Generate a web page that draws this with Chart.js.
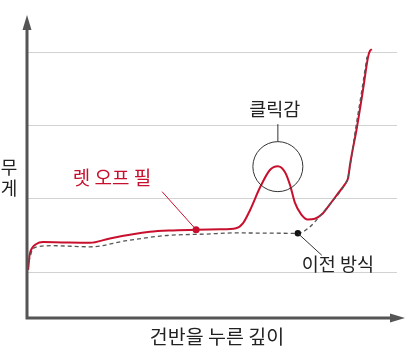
<!DOCTYPE html>
<html>
<head>
<meta charset="utf-8">
<script src="https://cdn.jsdelivr.net/npm/chart.js@4.4.1/dist/chart.umd.min.js"></script>
<style>
  html, body { margin: 0; padding: 0; background: #fff; }
  canvas { display: block; }
</style>
</head>
<body>
<canvas id="chart" width="415" height="352"></canvas>
<script>
// key depth (x) vs. weight (y)
const newDepth = [0.03, 0.07, 0.14, 0.24, 0.43, 0.95, 1.70, 2.24, 3.32, 3.95, 4.57, 5.22, 5.65, 5.84, 6.03, 6.30, 6.57, 6.78, 6.97, 7.11, 7.24, 7.41, 7.59, 7.78, 7.97, 8.19, 8.41, 8.59, 8.68, 8.73, 8.92, 9.08, 9.22, 9.27, 9.32];
const newWeight = [1.03, 1.23, 1.33, 1.38, 1.41, 1.405, 1.40, 1.46, 1.55, 1.57, 1.58, 1.585, 1.60, 1.67, 1.85, 2.16, 2.40, 2.45, 2.37, 2.19, 1.95, 1.79, 1.72, 1.73, 1.79, 1.93, 2.08, 2.20, 2.29, 2.47, 2.99, 3.49, 3.95, 4.03, 4.05];
const oldDepth = [0.05, 0.14, 0.24, 0.70, 1.70, 2.70, 3.78, 4.86, 5.57, 7.32, 7.65, 7.92, 8.19, 8.54, 8.68, 8.89, 9.05, 9.19];
const oldWeight = [1.14, 1.30, 1.34, 1.36, 1.345, 1.43, 1.50, 1.52, 1.535, 1.53, 1.62, 1.77, 1.93, 2.16, 2.31, 2.99, 3.49, 3.95];
const gridValues = [1, 2, 3, 4];

const letOffIndex = 10;  // 렛 오프 필 marker
const peakIndex = 17;    // 클릭감 peak
const oldDotIndex = 9;   // 이전 방식 marker

const RED = '#c8102e';
const DARK = '#555555';
const FONT = '"Noto Sans CJK KR", "Noto Sans", sans-serif';

function toPoints(xs, ys) {
    return xs.map((x, i) => ({ x: x, y: ys[i] }));
}

const annotations = {
    id: 'annotations',
    afterDraw(chart) {
        const ctx = chart.ctx;
        const area = chart.chartArea;
        const xs = chart.scales.x;
        const ys = chart.scales.y;

        // axes with arrow heads
        ctx.save();
        ctx.strokeStyle = DARK;
        ctx.fillStyle = DARK;
        ctx.lineWidth = 3;
        ctx.beginPath();
        ctx.moveTo(area.left, area.top + 12);
        ctx.lineTo(area.left, area.bottom);
        ctx.lineTo(area.right - 4, area.bottom);
        ctx.stroke();
        ctx.beginPath();
        ctx.moveTo(area.left, area.top);
        ctx.lineTo(area.left - 4.5, area.top + 15);
        ctx.lineTo(area.left + 4.5, area.top + 15);
        ctx.closePath();
        ctx.fill();
        ctx.beginPath();
        ctx.moveTo(area.right + 8, area.bottom);
        ctx.lineTo(area.right - 7, area.bottom - 4.5);
        ctx.lineTo(area.right - 7, area.bottom + 4.5);
        ctx.closePath();
        ctx.fill();

        // axis titles
        ctx.fillStyle = '#222';
        ctx.textAlign = 'center';
        ctx.textBaseline = 'middle';
        ctx.font = '18px ' + FONT;
        ctx.fillText('무', 9, 167);
        ctx.fillText('게', 9, 188);
        ctx.font = '19.5px ' + FONT;
        ctx.fillText('건반을 누른 깊이', (area.left + area.right) / 2 + 5, area.bottom + 19);

        // 클릭감 circle
        const px = xs.getPixelForValue(newDepth[peakIndex]);
        const py = ys.getPixelForValue(newWeight[peakIndex]);
        ctx.strokeStyle = '#333';
        ctx.lineWidth = 1;
        ctx.beginPath();
        ctx.arc(px, py + 0.5, 25, 0, Math.PI * 2);
        ctx.stroke();
        ctx.beginPath();
        ctx.moveTo(px, py - 24.5);
        ctx.lineTo(px, py - 42);
        ctx.stroke();
        ctx.font = '18.5px ' + FONT;
        ctx.fillText('클릭감', px - 3, py - 57);

        // 렛 오프 필 callout
        const rx = xs.getPixelForValue(newDepth[letOffIndex]);
        const ry = ys.getPixelForValue(newWeight[letOffIndex]);
        ctx.strokeStyle = RED;
        ctx.beginPath();
        ctx.moveTo(rx, ry);
        ctx.lineTo(rx - 34, ry - 38);
        ctx.stroke();
        ctx.fillStyle = RED;
        ctx.font = '19px ' + FONT;
        ctx.fillText('렛 오프 필', rx - 84, ry - 52);

        // 이전 방식 callout
        const ox = xs.getPixelForValue(oldDepth[oldDotIndex]);
        const oy = ys.getPixelForValue(oldWeight[oldDotIndex]);
        ctx.strokeStyle = '#333';
        ctx.beginPath();
        ctx.moveTo(ox, oy);
        ctx.lineTo(ox + 24, oy + 22);
        ctx.stroke();
        ctx.fillStyle = '#222';
        ctx.font = '18.5px ' + FONT;
        ctx.fillText('이전 방식', ox + 40, oy + 31);
        ctx.restore();
    }
};

new Chart(document.getElementById('chart'), {
    type: 'line',
    data: {
        datasets: [
            {
                label: '이전 방식',
                data: toPoints(oldDepth, oldWeight),
                borderColor: DARK,
                borderWidth: 1.3,
                borderDash: [4, 3],
                cubicInterpolationMode: 'monotone',
                pointRadius: c => c.dataIndex === oldDotIndex ? 3.2 : 0,
                pointBackgroundColor: '#111',
                pointBorderWidth: 0,
                fill: false
            },
            {
                label: '새 방식',
                data: toPoints(newDepth, newWeight),
                borderColor: RED,
                borderWidth: 2,
                cubicInterpolationMode: 'monotone',
                pointRadius: c => c.dataIndex === letOffIndex ? 3.5 : 0,
                pointBackgroundColor: RED,
                pointBorderWidth: 0,
                fill: false
            }
        ]
    },
    options: {
        responsive: false,
        animation: false,
        layout: { padding: { left: 27, right: 18, top: 15, bottom: 34 } },
        plugins: { legend: { display: false }, tooltip: { enabled: false } },
        scales: {
            x: { type: 'linear', min: 0, max: 10, display: false },
            y: {
                type: 'linear',
                min: 0.37,
                max: 4.52,
                afterBuildTicks: axis => { axis.ticks = gridValues.map(v => ({ value: v })); },
                ticks: { display: false },
                border: { display: false },
                grid: { color: '#d2d2d2', lineWidth: 1, drawTicks: false }
            }
        }
    },
    plugins: [annotations]
});
</script>
</body>
</html>
